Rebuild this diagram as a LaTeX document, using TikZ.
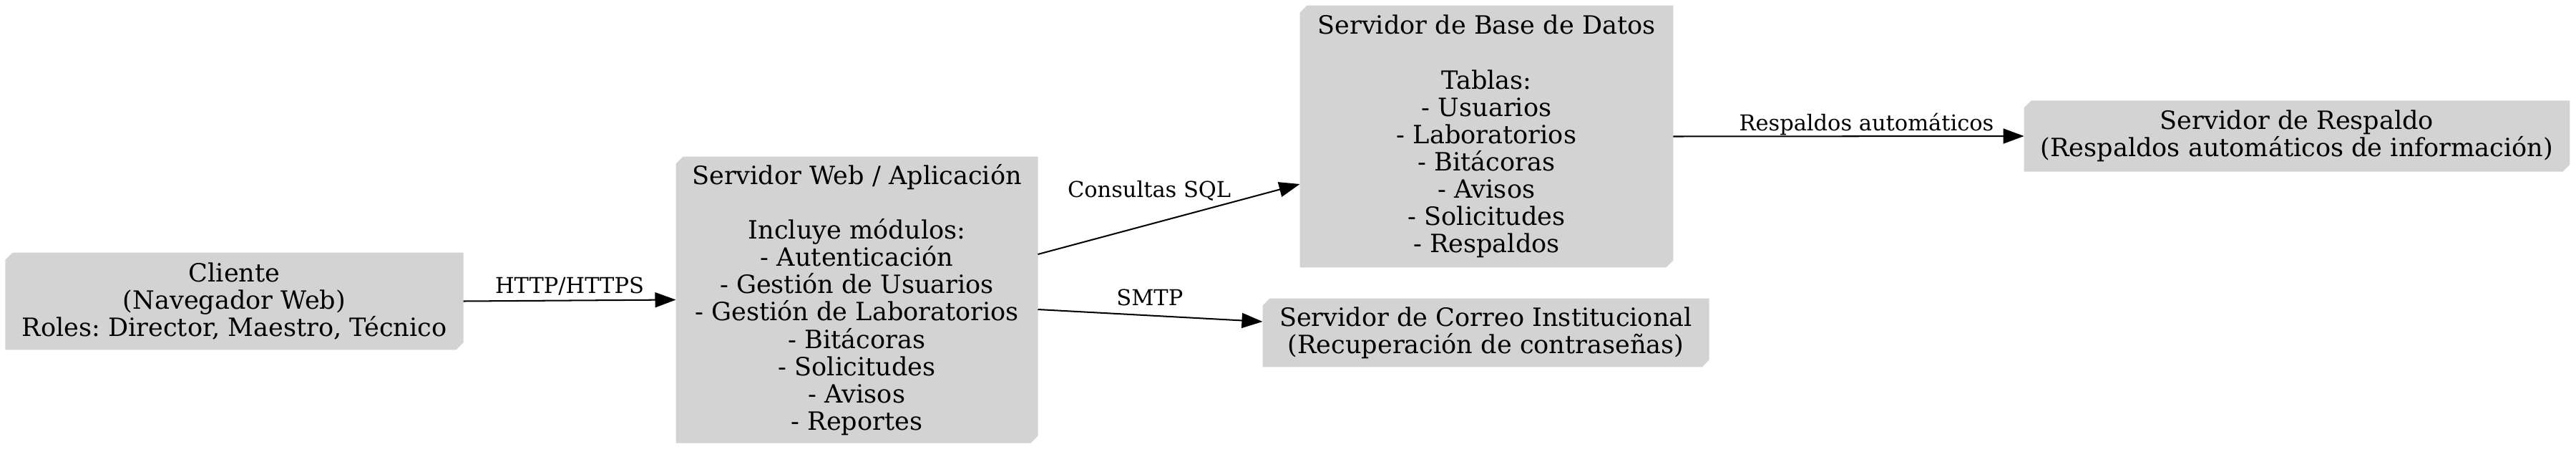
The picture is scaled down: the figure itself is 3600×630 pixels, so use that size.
\documentclass[tikz,border=0pt]{standalone}
\usepackage{fontspec}
\setmainfont{DejaVu Serif}
\frenchspacing
\usetikzlibrary{arrows.meta,calc,backgrounds}
\definecolor{boxgray}{HTML}{D3D3D3}
\tikzset{
  srv/.style={shape=rectangle, inner sep=0pt, align=center,
    font=\fontsize{14.75}{16}\selectfont},
  edge/.style={line width=0.85pt, -{Triangle[length=12.2pt,width=8.8pt]}},
  lbl/.style={anchor=base, inner sep=0pt, font=\fontsize{12.8}{14}\selectfont}
}
\newcommand{\boxthreefill}[1]{%
  \fill[boxgray] (#1.south west) -- ($(#1.south east)+(-10,0)$) -- ($(#1.south east)+(0,-10)$)
    -- (#1.north east) -- ($(#1.north west)+(10,0)$) -- ($(#1.north west)+(0,10)$) -- cycle;}
\begin{document}
\begin{tikzpicture}[x=0.42pt, y=-0.42pt]
\useasboundingbox (0,0) rectangle (3600,630);

\node[srv, minimum width=268.4pt, minimum height=56.7pt] (client) at (327.5,420.5)
  {Cliente\\(Navegador Web)\\Roles: Director, Maestro, Técnico};
\node[srv, minimum width=212.1pt, minimum height=167.6pt] (web) at (1197.5,418.5)
  {Servidor Web / Aplicación\\[16pt]Incluye módulos:\\- Autenticación\\- Gestión de Usuarios\\- Gestión de Laboratorios\\- Bitácoras\\- Solicitudes\\- Avisos\\- Reportes};
\node[srv, minimum width=218.8pt, minimum height=153.3pt] (db) at (2077.5,190.5)
  {Servidor de Base de Datos\\[16pt]Tablas:\\- Usuarios\\- Laboratorios\\- Bitácoras\\- Avisos\\- Solicitudes\\- Respaldos};
\node[srv, minimum width=261.7pt, minimum height=39.9pt] (mail) at (2076.5,464.5)
  {Servidor de Correo Institucional\\(Recuperación de contraseñas)};
\node[srv, minimum width=320pt, minimum height=41.2pt] (backup) at (3210,190)
  {Servidor de Respaldo\\(Respaldos automáticos de información)};

\begin{scope}[on background layer]
  \boxthreefill{client}
  \boxthreefill{web}
  \boxthreefill{db}
  \boxthreefill{mail}
  \boxthreefill{backup}
\end{scope}

\draw[edge] (client.east) -- node[lbl, pos=0.5, yshift=4.2pt]{HTTP/HTTPS} (web.west);
\draw[edge] ($(web.east)+(0,-63.5)$) -- node[lbl, pos=0.425, yshift=16pt]{Consultas SQL} ($(db.west)+(0,66.5)$);
\draw[edge] ($(web.east)+(0,13.5)$) -- node[lbl, pos=0.498, yshift=5.7pt]{SMTP} ($(mail.west)+(0,-15.5)$);
\draw[edge] (db.east) -- node[lbl, pos=0.551, yshift=3.4pt]{Respaldos automáticos} (backup.west);
\end{tikzpicture}
\end{document}
